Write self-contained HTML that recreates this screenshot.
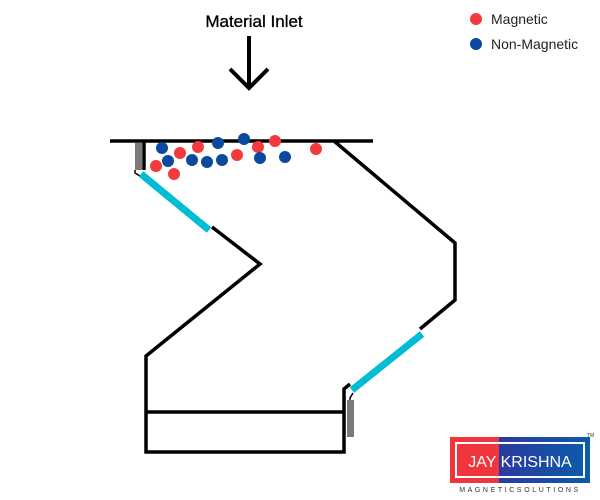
<!DOCTYPE html>
<html><head><style>body{margin:0;background:#fff}svg{display:block}</style></head>
<body>
<svg width="600" height="500" viewBox="0 0 600 500" xmlns="http://www.w3.org/2000/svg" font-family="Liberation Sans, sans-serif">
<rect width="600" height="500" fill="#fff"/>
<text x="254" y="27" font-size="17" text-anchor="middle" fill="#000" stroke="#000" stroke-width="0.3">Material Inlet</text>
<g stroke="#000" stroke-width="4" fill="none">
<line x1="249" y1="36" x2="249" y2="89"/>
<polyline points="230,69 249,88 268,69"/>
</g>
<circle cx="476" cy="19" r="6" fill="#f33a3f"/>
<text x="491" y="24" font-size="14" fill="#222">Magnetic</text>
<circle cx="476" cy="44" r="6" fill="#0a4a9e"/>
<text x="491" y="49" font-size="14" fill="#222">Non-Magnetic</text>

<g stroke="#000" stroke-width="3.5" fill="none" stroke-linejoin="miter">
<line x1="110" y1="141" x2="373" y2="141"/>
<polyline points="334,141 455,243 455,300 420,329"/>
<polyline points="212,227 260,264 146,356 146,452 344,452 344,389 350,384"/>
<line x1="146" y1="412" x2="344" y2="412"/>
<line x1="144" y1="141" x2="144" y2="170"/>
</g>
<g stroke="#000" stroke-width="1.5" fill="none">
<polyline points="135,170 135,173 140,176"/>
<polyline points="353,393 350,398 350,400"/>
</g>
<rect x="135" y="143" width="7" height="27" fill="#7a7a7a"/>
<rect x="347" y="400" width="7" height="37" fill="#7a7a7a"/>
<g stroke="#00bcd4" stroke-width="7">
<line x1="141" y1="174" x2="209" y2="230"/>
<line x1="422" y1="334" x2="352" y2="390"/>
</g>
<g fill="#f33a3f">
<circle cx="156" cy="166" r="6"/><circle cx="180" cy="153" r="6"/><circle cx="174" cy="174" r="6"/>
<circle cx="198" cy="147" r="6"/><circle cx="237" cy="155" r="6"/><circle cx="258" cy="147" r="6"/>
<circle cx="275" cy="141" r="6"/><circle cx="316" cy="149" r="6"/>
</g>
<g fill="#0a4a9e">
<circle cx="162" cy="148" r="6"/><circle cx="168" cy="161" r="6"/><circle cx="192" cy="160" r="6"/>
<circle cx="207" cy="162" r="6"/><circle cx="218" cy="143" r="6"/><circle cx="222" cy="160" r="6"/>
<circle cx="244" cy="139" r="6"/><circle cx="260" cy="158" r="6"/><circle cx="285" cy="157" r="6"/>
</g>
<defs><linearGradient id="bg" x1="0" x2="1"><stop offset="0" stop-color="#2b3aa0"/><stop offset="1" stop-color="#0b5cab"/></linearGradient></defs>
<rect x="450" y="437" width="50" height="46" fill="#f2343c"/>
<rect x="499" y="437" width="91" height="46" fill="url(#bg)"/>
<rect x="456" y="443" width="128" height="34" fill="none" stroke="#fff" stroke-width="2"/>
<text x="520" y="467" font-size="16" fill="#fff" text-anchor="middle">JAY KRISHNA</text>
<text x="587" y="437" font-size="5" fill="#333">TM</text>
<text x="520" y="492" font-size="7" fill="#333" text-anchor="middle" letter-spacing="2.6">MAGNETICSOLUTIONS</text>
</svg>
</body></html>
